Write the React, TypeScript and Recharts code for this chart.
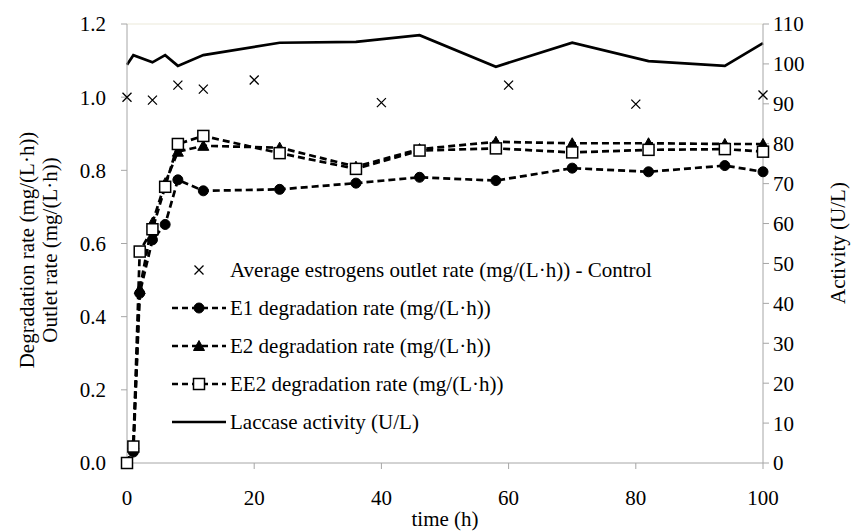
import React from 'react';
import { ComposedChart, Line, XAxis, YAxis, ReferenceLine } from 'recharts';

const eTimes = [0, 1, 2, 4, 6, 8, 12, 24, 36, 46, 58, 70, 82, 94, 100];
const e1Rate = [0, 0.03, 0.464, 0.61, 0.652, 0.774, 0.744, 0.748, 0.765, 0.781, 0.772, 0.806, 0.796, 0.813, 0.796];
const e2Rate = [0, 0.052, 0.475, 0.657, 0.765, 0.851, 0.867, 0.862, 0.81, 0.858, 0.878, 0.874, 0.874, 0.872, 0.872];
const ee2Rate = [0, 0.045, 0.578, 0.639, 0.755, 0.872, 0.894, 0.847, 0.804, 0.854, 0.86, 0.849, 0.856, 0.858, 0.851];
const controlTimes = [0, 4, 8, 12, 20, 40, 60, 80, 100];
const controlRate = [1.0, 0.992, 1.033, 1.022, 1.047, 0.985, 1.033, 0.981, 1.006];
const laccaseTimes = [0, 1, 4, 6, 8, 12, 24, 36, 46, 58, 70, 82, 94, 100];
const laccaseActivity = [99.8, 102.2, 100.4, 102.2, 99.5, 102.2, 105.3, 105.5, 107.2, 99.3, 105.3, 100.7, 99.5, 105.2];

const xTicks = [0, 20, 40, 60, 80, 100];
const rateTicks = [0, 0.2, 0.4, 0.6, 0.8, 1.0, 1.2];
const activityTicks = [0, 10, 20, 30, 40, 50, 60, 70, 80, 90, 100, 110];

const legendLabels = [
  'Average estrogens outlet rate (mg/(L·h))  - Control',
  'E1 degradation rate (mg/(L·h))',
  'E2 degradation rate (mg/(L·h))',
  'EE2 degradation rate (mg/(L·h))',
  'Laccase activity (U/L)',
];

const toPoints = (ts: number[], vs: number[]) => ts.map((t, i) => ({ t, v: vs[i] }));

const e1Data = toPoints(eTimes, e1Rate);
const e2Data = toPoints(eTimes, e2Rate);
const ee2Data = toPoints(eTimes, ee2Rate);
const controlData = toPoints(controlTimes, controlRate);
const laccaseData = toPoints(laccaseTimes, laccaseActivity);

const FONT = 'Liberation Serif';
const FS = 21;
const AXIS = '#a6a6a6';
const DASH = '7 4';
const SW = 2.7;

const Cross = ({ cx, cy }: any) => (
  <path d={`M${cx - 4.5},${cy - 4.5}L${cx + 4.5},${cy + 4.5}M${cx - 4.5},${cy + 4.5}L${cx + 4.5},${cy - 4.5}`} stroke="#000" strokeWidth={1.3} fill="none" />
);
const Circle = ({ cx, cy }: any) => <circle cx={cx} cy={cy} r={5} fill="#000" stroke="#000" strokeWidth={1} />;
const Tri = ({ cx, cy }: any) => (
  <path d={`M${cx},${cy - 5.5}L${cx + 5.5},${cy + 4.5}L${cx - 5.5},${cy + 4.5}Z`} fill="#000" stroke="#000" strokeWidth={1} />
);
const Square = ({ cx, cy }: any) => (
  <rect x={cx - 5.5} y={cy - 5.5} width={11} height={11} fill="#fff" stroke="#000" strokeWidth={1.5} />
);

const dotFn = (C: any) => (p: any) => <C key={`${p.index}`} cx={p.cx} cy={p.cy} />;

const txtStyle = { fontFamily: FONT, fontSize: FS, fill: '#000' } as any;

const LegendBox = () => {
  const rowY = [17, 55, 93, 131, 169];
  const x0 = 0;
  const x1 = 54;
  const mx = 27;
  return (
    <svg width={560} height={190} style={{ position: 'absolute', left: 172, top: 253, overflow: 'visible' }}>
      {legendLabels.map((lab, i) => {
        const y = rowY[i];
        return (
          <g key={i}>
            {i >= 1 && i <= 3 && (
              <line x1={x0} y1={y} x2={x1} y2={y} stroke="#000" strokeWidth={SW} strokeDasharray="6 4" />
            )}
            {i === 4 && <line x1={x0} y1={y} x2={x1} y2={y} stroke="#000" strokeWidth={SW} />}
            {i === 0 && <Cross cx={mx} cy={y} />}
            {i === 1 && <Circle cx={mx} cy={y} />}
            {i === 2 && <Tri cx={mx} cy={y} />}
            {i === 3 && <Square cx={mx} cy={y} />}
            <text x={58} y={y} dominantBaseline="central" style={txtStyle}>
              {lab}
            </text>
          </g>
        );
      })}
    </svg>
  );
};

const LeftTitle = () => (
  <g>
    <text x={27} y={250} transform="rotate(-90, 27, 250)" textAnchor="middle" dominantBaseline="central" style={txtStyle}>
      Degradation rate (mg/(L·h))
    </text>
    <text x={50} y={250} transform="rotate(-90, 50, 250)" textAnchor="middle" dominantBaseline="central" style={txtStyle}>
      Outlet rate (mg/(L·h))
    </text>
  </g>
);

const RightTitle = () => (
  <text x={838} y={243} transform="rotate(-90, 838, 243)" textAnchor="middle" dominantBaseline="central" style={txtStyle}>
    Activity (U/L)
  </text>
);

const BottomTitle = () => (
  <text x={445} y={519} textAnchor="middle" dominantBaseline="central" style={txtStyle}>
    time (h)
  </text>
);

export default function App() {
  const tick = { fontFamily: FONT, fontSize: FS, fill: '#000', style: txtStyle };
  return (
    <div style={{ position: 'fixed', left: 0, top: 0, width: 851, height: 532, background: '#fff', fontFamily: FONT }}>
      <ComposedChart width={851} height={532} margin={{ top: 24, right: 0, bottom: 0, left: 0 }} style={{ fontFamily: FONT }}>
        <XAxis
          type="number"
          dataKey="t"
          domain={[0, 100]}
          ticks={xTicks}
          interval={0}
          height={69}
          stroke={AXIS}
          tickSize={6}
          tickMargin={21}
          tick={tick}
          allowDuplicatedCategory={false}
          label={{ content: () => <BottomTitle /> }}
        />
        <YAxis
          yAxisId="rate"
          domain={[0, 1.2]}
          ticks={rateTicks}
          interval={0}
          width={127}
          stroke={AXIS}
          tickSize={6}
          tickMargin={15}
          tick={tick}
          tickFormatter={(v: number) => v.toFixed(1)}
          label={{ content: () => <LeftTitle /> }}
        />
        <YAxis
          yAxisId="act"
          orientation="right"
          domain={[0, 110]}
          ticks={activityTicks}
          interval={0}
          width={88}
          stroke={AXIS}
          tickSize={6}
          tickMargin={4}
          tick={tick}
          label={{ content: () => <RightTitle /> }}
        />
        <ReferenceLine yAxisId="rate" y={1.2} stroke="#ece9d9" strokeWidth={1.2} />
        <Line yAxisId="rate" data={controlData} dataKey="v" stroke="none" strokeWidth={0} dot={dotFn(Cross)} activeDot={false} isAnimationActive={false} legendType="none" />
        <Line yAxisId="rate" data={e1Data} dataKey="v" stroke="#000" strokeWidth={SW} strokeDasharray={DASH} dot={dotFn(Circle)} activeDot={false} isAnimationActive={false} />
        <Line yAxisId="rate" data={e2Data} dataKey="v" stroke="#000" strokeWidth={SW} strokeDasharray={DASH} dot={dotFn(Tri)} activeDot={false} isAnimationActive={false} />
        <Line yAxisId="rate" data={ee2Data} dataKey="v" stroke="#000" strokeWidth={SW} strokeDasharray={DASH} dot={dotFn(Square)} activeDot={false} isAnimationActive={false} />
        <Line yAxisId="act" data={laccaseData} dataKey="v" stroke="#000" strokeWidth={SW} dot={false} activeDot={false} isAnimationActive={false} />
      </ComposedChart>
      <LegendBox />
    </div>
  );
}
